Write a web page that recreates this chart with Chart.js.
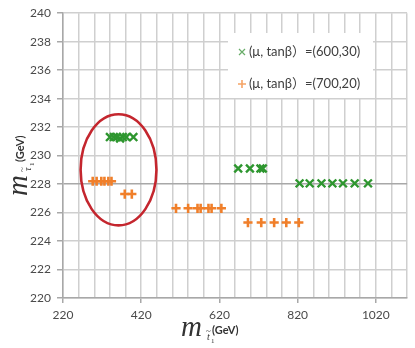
<!DOCTYPE html>
<html>
<head>
<meta charset="utf-8">
<script src="https://cdn.jsdelivr.net/npm/chart.js@4"></script>
<style>
  body { margin: 0; background: #fff; }
  canvas { display: block; }
</style>
</head>
<body>
<canvas id="grafik" width="415" height="348"></canvas>
<script>
// (mu, tanb) = (600,30)  -> green x
const hijauX = [340, 350, 358, 366, 373, 382, 400, 668, 698, 725, 731, 825, 851, 881, 909, 936, 966, 1000];
const hijauY = [231.3, 231.3, 231.3, 231.2, 231.3, 231.3, 231.3, 229.1, 229.1, 229.1, 229.1, 228.05, 228.05, 228.05, 228.05, 228.05, 228.05, 228.05];
// (mu, tanb) = (700,20)  -> orange +
const oranyeX = [296, 306, 318, 326, 336, 344, 378, 396, 509, 540, 564, 572, 592, 600, 625, 693, 727, 760, 791, 823];
const oranyeY = [228.2, 228.2, 228.2, 228.2, 228.2, 228.2, 227.3, 227.3, 226.3, 226.3, 226.3, 226.3, 226.3, 226.3, 226.3, 225.3, 225.3, 225.3, 225.3, 225.3];

const labelSeri = ['(μ, tanβ）=(600,30)', '(μ, tanβ）=(700,20)'];
const xTickLabel = [220, 420, 620, 820, 1020];
const yTickLabel = [220, 222, 224, 226, 228, 230, 232, 234, 236, 238, 240];

const warnaHijau = '#2e962f';
const warnaOranye = '#f07f2a';

const dataHijau = hijauX.map((x, i) => ({ x, y: hijauY[i] }));
const dataOranye = oranyeX.map((x, i) => ({ x, y: oranyeY[i] }));

const fontTick = { family: 'Lato, "Open Sans", sans-serif', size: 12 };

// legend box + ellipse + axis titles
const hiasan = {
  id: 'hiasan',
  afterDatasetsDraw(chart) {
    const ctx = chart.ctx;
    const sx = chart.scales.x, sy = chart.scales.y;

    // red ellipse round the low-mass group
    const cx = sx.getPixelForValue(362), cy = sy.getPixelForValue(229.0);
    const rx = sx.getPixelForValue(362 + 97) - cx;
    const ry = sy.getPixelForValue(229.0 - 3.9) - cy;
    ctx.save();
    ctx.beginPath();
    ctx.ellipse(cx, cy, rx, ry, 0, 0, Math.PI * 2);
    ctx.strokeStyle = '#c4262e';
    ctx.lineWidth = 2.6;
    ctx.stroke();
    ctx.restore();

    // legend
    ctx.save();
    ctx.fillStyle = '#fff';
    ctx.fillRect(228, 33, 145, 65);
    ctx.font = '13px Lato, "Open Sans", "Noto Sans CJK SC", sans-serif';
    ctx.fillStyle = '#404040';
    ctx.textBaseline = 'middle';
    ctx.fillText(labelSeri[0], 249, 52);
    ctx.fillText(labelSeri[1], 249, 84);
    ctx.lineWidth = 1.2;
    ctx.strokeStyle = '#68ad68';
    ctx.beginPath();
    ctx.moveTo(239, 49); ctx.lineTo(245, 55);
    ctx.moveTo(245, 49); ctx.lineTo(239, 55);
    ctx.stroke();
    ctx.strokeStyle = '#f5a466';
    ctx.lineWidth = 1.6;
    ctx.beginPath();
    ctx.moveTo(238, 84); ctx.lineTo(246, 84);
    ctx.moveTo(242, 80); ctx.lineTo(242, 88);
    ctx.stroke();
    ctx.restore();

    // x axis title: m_{t~1} (GeV)
    ctx.save();
    ctx.fillStyle = '#333';
    ctx.textBaseline = 'alphabetic';
    ctx.font = 'italic 29px "Liberation Serif", "DejaVu Serif", serif';
    ctx.fillText('m', 181, 336);
    ctx.font = 'italic 10px "Liberation Serif", serif';
    ctx.fillText('t', 207, 340);
    ctx.font = '9px "Liberation Serif", serif';
    ctx.fillText('~', 206, 334);
    ctx.font = '7px "Liberation Serif", serif';
    ctx.fillText('1', 211, 343);
    ctx.font = 'bold 11px Lato, "Open Sans", sans-serif';
    ctx.fillText('(GeV)', 212, 334);
    ctx.restore();

    // y axis title: m_{tau~1} (GeV), rotated
    ctx.save();
    ctx.translate(27, 196);
    ctx.rotate(-Math.PI / 2);
    ctx.fillStyle = '#333';
    ctx.font = 'italic 29px "Liberation Serif", "DejaVu Serif", serif';
    ctx.fillText('m', 0, 0);
    ctx.font = 'italic 10px "Liberation Serif", serif';
    ctx.fillText('τ', 25, 4);
    ctx.font = '9px "Liberation Serif", serif';
    ctx.fillText('~', 24, -2);
    ctx.font = '7px "Liberation Serif", serif';
    ctx.fillText('1', 30, 7);
    ctx.font = 'bold 11px Lato, "Open Sans", sans-serif';
    ctx.fillText('(GeV)', 34, -3);
    ctx.restore();
  }
};

new Chart(document.getElementById('grafik'), {
  type: 'scatter',
  data: {
    datasets: [
      { label: labelSeri[0], data: dataHijau, pointStyle: 'crossRot', radius: 5.5, borderWidth: 2.4,
        borderColor: warnaHijau, backgroundColor: warnaHijau },
      { label: labelSeri[1], data: dataOranye, pointStyle: 'cross', radius: 4.6, borderWidth: 2.6,
        borderColor: warnaOranye, backgroundColor: warnaOranye }
    ]
  },
  options: {
    responsive: false,
    animation: false,
    layout: { padding: { top: 10, right: 7, left: 0, bottom: 0 } },
    plugins: { legend: { display: false }, tooltip: { enabled: false } },
    scales: {
      x: {
        type: 'linear', min: 220, max: 1100,
        border: { color: '#a8a8a8', width: 1.5 },
        grid: {
          color: '#cfcfcf', lineWidth: 1.5, tickLength: 5, tickWidth: 1.5,
          tickColor: c => (c.tick && xTickLabel.includes(c.tick.value)) ? '#a8a8a8' : 'rgba(0,0,0,0)'
        },
        ticks: {
          stepSize: 40, padding: 5, color: '#4a4a4a', font: fontTick, maxRotation: 0, autoSkip: false,
          callback: v => xTickLabel.includes(v) ? String(v) : ''
        },
        afterFit: s => { s.height = 50; }
      },
      y: {
        type: 'linear', min: 220, max: 240,
        border: { color: '#a8a8a8', width: 1.5 },
        grid: {
          color: c => (c.tick && c.tick.value === 228) ? '#a8a8a8' : '#cfcfcf',
          lineWidth: 1.5, tickLength: 6, tickWidth: 1.5, tickColor: '#a8a8a8'
        },
        ticks: {
          stepSize: 2, padding: 6, color: '#4a4a4a', font: fontTick,
          callback: v => yTickLabel.includes(v) ? String(v) : ''
        },
        afterFit: s => { s.width = 63; }
      }
    }
  },
  plugins: [hiasan]
});
</script>
</body>
</html>
